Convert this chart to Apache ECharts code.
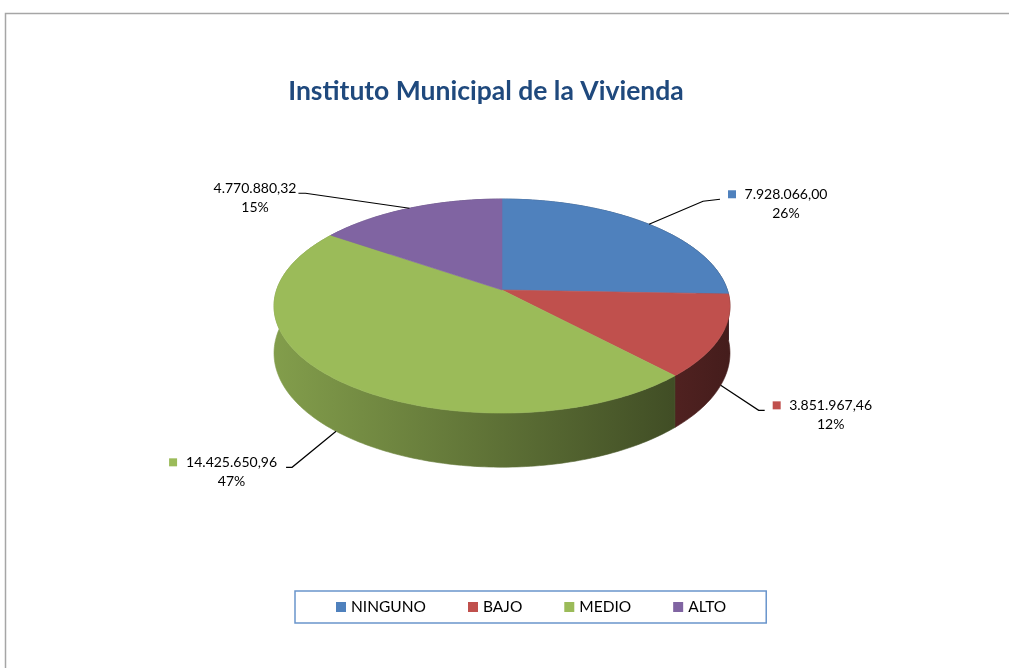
<!DOCTYPE html>
<html>
<head>
<meta charset="utf-8">
<script src="https://cdn.jsdelivr.net/npm/echarts@6/dist/echarts.min.js"></script>
<style>
  html, body { margin: 0; padding: 0; background: #fff; }
  #main { width: 1009px; height: 668px; }
</style>
</head>
<body>
<div id="main"></div>
<script>
var categories = ['NINGUNO', 'BAJO', 'MEDIO', 'ALTO'];
var values = [7928066.00, 3851967.46, 14425650.96, 4770880.32];
var colors = ['#4F81BD', '#C0504D', '#9BBB59', '#8064A2'];

var total = values.reduce(function (a, b) { return a + b; }, 0);
var starts = [];
var acc = 0;
values.forEach(function (v) { starts.push(acc); acc += v; });

// 3d pie look: ellipse with a bit of perspective + a side wall
var cx = 502, cy = 290, rx = 225.4, ry = 104.6, persp = 0.15, depth = 46;

// leader lines (offsets from the slice anchor), legend key shown or not
var leaderBend = [[54, -23], [38, 25], [-44, 36], [-104, -15]];
var leaderEnd = [[71, -25], [44, 25], [-50, 36], [-111, -15]];
var showKey = [true, true, true, false];

var labelFont = '14px Lato';
var measure = document.createElement('canvas').getContext('2d');
measure.font = labelFont;

function proj(a) {
  var u = Math.sin(a), v = -Math.cos(a), k = 1 / (1 - persp * v);
  return { x: cx + rx * u * k, y: cy + ry * v * k, k: k, v: v };
}

function fmtNum(n) {
  var parts = n.toFixed(2).split('.');
  return parts[0].replace(/\B(?=(\d{3})+(?!\d))/g, '.') + ',' + parts[1];
}

function shade(hex, f) {
  var r = parseInt(hex.slice(1, 3), 16), g = parseInt(hex.slice(3, 5), 16), b = parseInt(hex.slice(5, 7), 16);
  return 'rgb(' + Math.round(r * f) + ',' + Math.round(g * f) + ',' + Math.round(b * f) + ')';
}

function renderSlice(i) {
  return function (params, api) {
    var val = api.value(0), st = api.value(1);
    var a0 = st / total * 2 * Math.PI;
    var a1 = (st + val) / total * 2 * Math.PI;
    var n = Math.max(2, Math.ceil((a1 - a0) / (Math.PI / 180)));
    var top = [], bottom = [];
    for (var j = 0; j <= n; j++) {
      var p = proj(a0 + (a1 - a0) * j / n);
      top.push([p.x, p.y]);
      bottom.push([p.x, p.y + depth * p.k]);
    }
    var side = top.concat(bottom.slice().reverse());
    var face = [[cx, cy]].concat(top);

    var grad = new echarts.graphic.LinearGradient(cx - rx, 0, cx + rx, 0, [
      { offset: 0, color: shade(colors[i], 0.84) },
      { offset: 1, color: shade(colors[i], 0.36) }
    ], true);

    // label
    var mid = proj((a0 + a1) / 2);
    var anchor = mid.v > 0 ? [mid.x, mid.y + depth * mid.k] : [mid.x, mid.y];
    var bend = [anchor[0] + leaderBend[i][0], anchor[1] + leaderBend[i][1]];
    var end = [anchor[0] + leaderEnd[i][0], anchor[1] + leaderEnd[i][1]];
    var valueStr = fmtNum(val);
    var pctStr = Math.round(val / total * 100) + '%';
    var w = measure.measureText(valueStr).width;
    var right = leaderEnd[i][0] > 0;
    var textLeft = right ? end[0] + (showKey[i] ? 24.5 : 3) : end[0] - (showKey[i] ? 9 : 2) - w;
    var lineY = end[1] - 5;

    var children = [
      { type: 'polygon', z2: 1, shape: { points: side },
        style: { fill: grad, stroke: grad, lineWidth: 0.6 } },
      { type: 'polygon', z2: 10, shape: { points: face },
        style: { fill: colors[i], stroke: colors[i], lineWidth: 0.6 } },
      { type: 'polyline', z2: 20, shape: { points: [anchor, bend, end] },
        style: { stroke: '#000', lineWidth: 1.2, fill: null } },
      { type: 'text', z2: 20, x: textLeft + w / 2, y: lineY - 9.5,
        style: { text: valueStr + '\n' + pctStr, font: labelFont, fill: '#000',
                 align: 'center', verticalAlign: 'top', lineHeight: 19 } }
    ];
    if (showKey[i]) {
      var kx = right ? end[0] + 8 : textLeft - 17;
      children.push({ type: 'rect', z2: 20, shape: { x: kx, y: lineY - 4, width: 8, height: 8 },
        style: { fill: colors[i] } });
    }
    return { type: 'group', children: children };
  };
}

var chart = echarts.init(document.getElementById('main'));
chart.setOption({
  animation: false,
  backgroundColor: '#fff',
  title: {
    text: 'Instituto Municipal de la Vivienda',
    left: 481,
    textAlign: 'center',
    top: 73,
    textStyle: { color: '#1F497D', fontFamily: 'Lato', fontWeight: 'bold', fontSize: 26.5 }
  },
  legend: {
    left: 295,
    top: 591,
    orient: 'horizontal',
    icon: 'rect',
    itemWidth: 10,
    itemHeight: 10,
    itemGap: 42,
    padding: [8, 40, 8, 41],
    borderColor: '#6a95cc',
    borderWidth: 1.5,
    textStyle: { color: '#000', fontFamily: 'Lato', fontSize: 15.5 },
    data: categories.map(function (c, i) { return { name: c, itemStyle: { color: colors[i] } }; })
  },
  graphic: [
    { type: 'polyline', shape: { points: [[5.5, 668], [5.5, 13.5], [1009, 13.5]] },
      style: { stroke: '#a6a6a6', lineWidth: 1.5, fill: null } }
  ],
  series: categories.map(function (c, i) {
    return {
      name: c,
      type: 'custom',
      coordinateSystem: 'none',
      itemStyle: { color: colors[i] },
      renderItem: renderSlice(i),
      data: [[values[i], starts[i]]]
    };
  })
});
</script>
</body>
</html>
